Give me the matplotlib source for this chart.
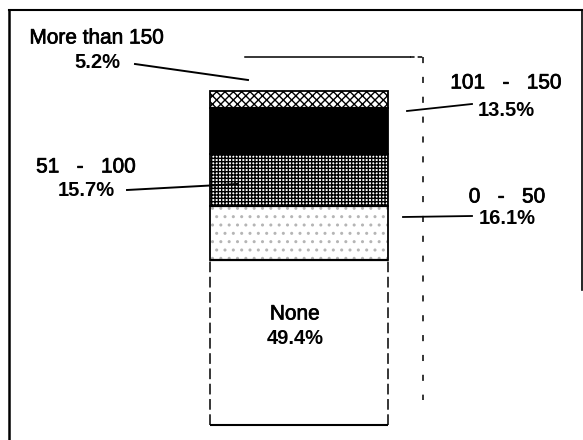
import matplotlib
matplotlib.use("Agg")
import matplotlib.pyplot as plt
import matplotlib.patheffects as pe
import numpy as np

# ---- data ----
categories = ["None", "0 - 50", "51 - 100", "101 - 150", "More than 150"]
values = [49.4, 16.1, 15.7, 13.5, 5.2]
pct_labels = ["49.4%", "16.1%", "15.7%", "13.5%", "5.2%"]
display_names = ["None", "0   -   50", "51   -   100", "101   -   150", "More than 150"]

plt.rcParams['font.family'] = ['Liberation Sans', 'DejaVu Sans']
plt.rcParams['hatch.linewidth'] = 1.0

W, H = 583, 440
fig = plt.figure(figsize=(W / 100, H / 100), dpi=100)
fig.patch.set_facecolor("white")

# bar axes (pixel box of the stacked bar)
bx0, bx1, by_top, by_bot = 210, 388, 91, 425
axb = fig.add_axes([bx0 / W, (H - by_bot) / H, (bx1 - bx0) / W, (by_bot - by_top) / H])
axb.set_xlim(-0.5, 0.5)
axb.set_ylim(0, sum(values))
axb.axis("off")

faces = ["white", "white", "white", "black", "white"]
hatches = [None, "..", "+++++", None, "xxxx"]
hatch_cols = ["black", "#b5b5b5", "black", "black", "black"]

bottoms = np.concatenate([[0.0], np.cumsum(values)[:-1]])
arts = []
arts += list(axb.bar(0, values, width=1.0, bottom=bottoms, color=faces,
                     edgecolor=hatch_cols, linewidth=0))
for v, b, h, c in zip(values, bottoms, hatches, hatch_cols):
    if h:
        arts += list(axb.bar(0, v, width=1.0, bottom=b, facecolor="none", hatch=h,
                             edgecolor=c, linewidth=0))
arts += list(axb.bar(0, values[1:], width=1.0, bottom=bottoms[1:], fill=False,
                     edgecolor="black", linewidth=1.3))
arts.append(axb.vlines([-0.5, 0.5], 0, values[0], colors="black", lw=1.1,
                       linestyles=[(0, (7, 3))]))
arts.append(axb.hlines(0, -0.5, 0.5, colors="black", lw=1.5))
arts.append(axb.hlines(np.cumsum(values)[:-1], -0.5, 0.5, colors="black", lw=1.6))
for a in arts:
    a.set_clip_on(False)

# overlay axes in pixel coordinates
ax = fig.add_axes([0, 0, 1, 1])
ax.set_xlim(0, W)
ax.set_ylim(H, 0)
ax.axis("off")
ax.patch.set_alpha(0)

# frame
ax.plot([9, 9], [10, H], color="black", lw=1.8)
ax.plot([9, 582], [10, 10], color="black", lw=1.5)
ax.plot([582, 582], [10, 290], color="black", lw=1.2)

# back outline (3D depth)
ax.plot([245, 410], [57, 57], color="black", lw=1.1)
ax.plot([410, 423], [57, 57], color="black", lw=1.1, linestyle=(0, (3, 2)))
ax.plot([423, 423], [57, 400], color="black", lw=1.1, linestyle=(0, (4, 9)))

fs = 15
thick = [pe.withStroke(linewidth=0.5, foreground="black")]
txt = dict(color="black", fontsize=fs, ha="center", va="center", path_effects=thick)
ptxt = dict(color="black", fontsize=fs - 0.5, ha="center", va="center", fontweight="bold")

# None label inside bar
ax.text(295, 314, display_names[0], **txt)
ax.text(295, 338, pct_labels[0], **ptxt)

# 0 - 50
ax.text(507, 197, display_names[1], **txt)
ax.text(507, 219, pct_labels[1], **ptxt)
ax.plot([403, 472], [217, 216], color="black", lw=1.3)

# 51 - 100
ax.text(86, 167, display_names[2], **txt)
ax.text(86, 191, pct_labels[2], **ptxt)
ax.plot([127, 238], [190, 184], color="black", lw=1.4)

# 101 - 150
ax.text(506, 83, display_names[3], **txt)
ax.text(506, 110, pct_labels[3], **ptxt)
ax.plot([407, 472], [111, 104], color="black", lw=1.3)

# More than 150
ax.text(97, 38, display_names[4], **txt)
ax.text(97, 62, pct_labels[4], **ptxt)
ax.plot([135, 248], [64, 80], color="black", lw=1.4)

fig.savefig("out.png", dpi=100, facecolor="white")
